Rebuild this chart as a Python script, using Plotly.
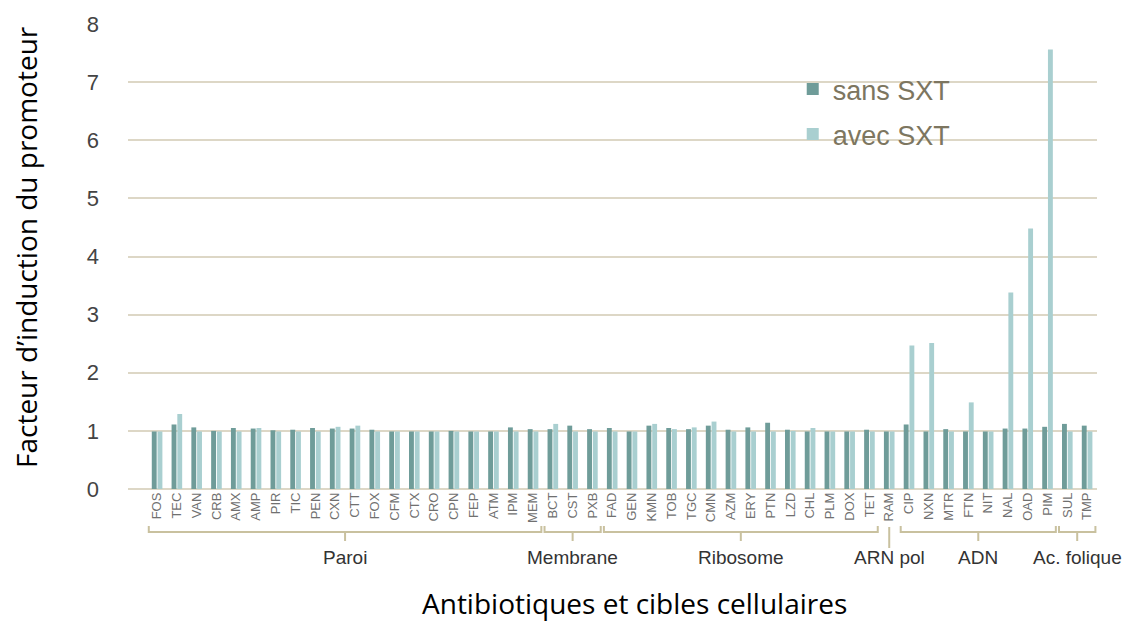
import plotly.graph_objects as go

categories = ["FOS", "TEC", "VAN", "CRB", "AMX", "AMP", "PIR", "TIC", "PEN", "CXN",
              "CTT", "FOX", "CFM", "CTX", "CRO", "CPN", "FEP", "ATM", "IPM", "MEM",
              "BCT", "CST", "PXB",
              "FAD", "GEN", "KMN", "TOB", "TGC", "CMN", "AZM", "ERY", "PTN", "LZD",
              "CHL", "PLM", "DOX", "TET",
              "RAM",
              "CIP", "NXN", "MTR", "FTN", "NIT", "NAL", "OAD", "PIM",
              "SUL", "TMP"]

sans_sxt = [0.99, 1.11, 1.06, 1.00, 1.05, 1.04, 1.01, 1.02, 1.05, 1.04,
            1.04, 1.02, 0.99, 0.99, 0.99, 1.00, 0.99, 0.99, 1.06, 1.03,
            1.03, 1.09, 1.03,
            1.05, 0.99, 1.09, 1.05, 1.03, 1.09, 1.02, 1.06, 1.14, 1.02,
            0.99, 0.99, 0.99, 1.02,
            0.99,
            1.11, 0.99, 1.03, 0.99, 0.99, 1.04, 1.04, 1.07,
            1.12, 1.09]

avec_sxt = [0.99, 1.29, 0.99, 0.99, 0.99, 1.05, 0.99, 0.99, 0.99, 1.07,
            1.09, 0.99, 0.99, 0.99, 0.99, 0.99, 0.99, 0.99, 0.99, 0.99,
            1.12, 0.99, 0.99,
            0.99, 0.99, 1.12, 1.03, 1.06, 1.16, 0.99, 0.99, 0.99, 1.00,
            1.05, 0.99, 0.99, 0.99,
            0.99,
            2.47, 2.51, 0.99, 1.49, 0.99, 3.38, 4.48, 7.56,
            0.99, 0.99]

groups = ["Paroi", "Membrane", "Ribosome", "ARN pol", "ADN", "Ac. folique"]
group_sizes = [20, 3, 14, 1, 8, 2]

y_ticks = [0, 1, 2, 3, 4, 5, 6, 7, 8]

SANS_COLOR = "#6f9c99"
AVEC_COLOR = "#a9cfd0"
BRACKET_COLOR = "#c9c19f"

fig = go.Figure()
fig.add_trace(go.Bar(x=categories, y=sans_sxt, name="sans SXT",
                     marker=dict(color=SANS_COLOR, line=dict(width=0)),
                     legendgroup="a"))
fig.add_trace(go.Bar(x=categories, y=avec_sxt, name="avec SXT",
                     marker=dict(color=AVEC_COLOR, line=dict(width=0)),
                     legendgroup="b"))

# plot area in page pixels: left 128, right 1097, top 24 (y=8), bottom 489 (y=0)
# (the page body has an 8px margin)
plot_h = 489 - 24
plot_w = 1097 - 128
def py(pix):
    return (489 - pix) / plot_h
def px(pix):
    return (pix - 128) / plot_w

shapes = []
annotations = []
start = 0
for g, n in zip(groups, group_sizes):
    i0 = start
    i1 = start + n - 1
    xc = (i0 + i1) / 2
    if n == 1:
        shapes.append(dict(type="line", xref="x", yref="paper",
                           x0=xc, x1=xc, y0=py(527), y1=py(548),
                           line=dict(color=BRACKET_COLOR, width=2)))
    else:
        x0 = i0 - 0.42
        x1 = i1 + 0.42
        path = (f"M {x0},{py(526)} L {x0},{py(532)} L {x1},{py(532)} L {x1},{py(526)} "
                f"M {xc},{py(532)} L {xc},{py(541)}")
        shapes.append(dict(type="path", xref="x", yref="paper", path=path,
                           line=dict(color=BRACKET_COLOR, width=2)))
    annotations.append(dict(text=g, xref="x", yref="paper", x=xc, y=py(557),
                            showarrow=False, xanchor="center", yanchor="middle",
                            font=dict(family="Liberation Sans, Arial", size=19, color="#333333")))
    start += n

annotations.append(dict(text="Antibiotiques et cibles cellulaires", xref="paper", yref="paper",
                        x=px(634), y=py(603), showarrow=False,
                        xanchor="center", yanchor="middle",
                        font=dict(family="Open Sans", size=28, color="#000000")))
annotations.append(dict(text="Facteur d’induction du promoteur", xref="paper", yref="paper",
                        x=px(26), y=py(247), showarrow=False, textangle=-90,
                        xanchor="center", yanchor="middle",
                        font=dict(family="Open Sans", size=28, color="#000000")))

fig.update_layout(
    width=1129, height=623,
    margin=dict(l=120, r=40, t=16, b=142),
    paper_bgcolor="white", plot_bgcolor="white",
    barmode="group", bargap=0.42, bargroupgap=0.15,
    shapes=shapes, annotations=annotations,
    legend=dict(x=0.686, y=0.912, xanchor="left", yanchor="top",
                bgcolor="rgba(0,0,0,0)", tracegroupgap=7,
                font=dict(family="Liberation Sans, Arial", size=27, color="#7d7660")),
    xaxis=dict(range=[-1.47, 47.5], tickangle=-90, showgrid=False, zeroline=False,
               showline=False, ticks="", automargin=False,
               tickfont=dict(family="Liberation Sans, Arial", size=13, color="#707070")),
    yaxis=dict(range=[0, 8], tickvals=y_ticks, showgrid=True, gridcolor="#ddd7c6",
               gridwidth=1.5, zeroline=True, zerolinecolor="#ddd7c6", zerolinewidth=1.5,
               showline=False, ticks="", ticklabelstandoff=28, automargin=False,
               tickfont=dict(family="Liberation Sans, Arial", size=22, color="#444444")),
)

fig.write_html("out.html")
